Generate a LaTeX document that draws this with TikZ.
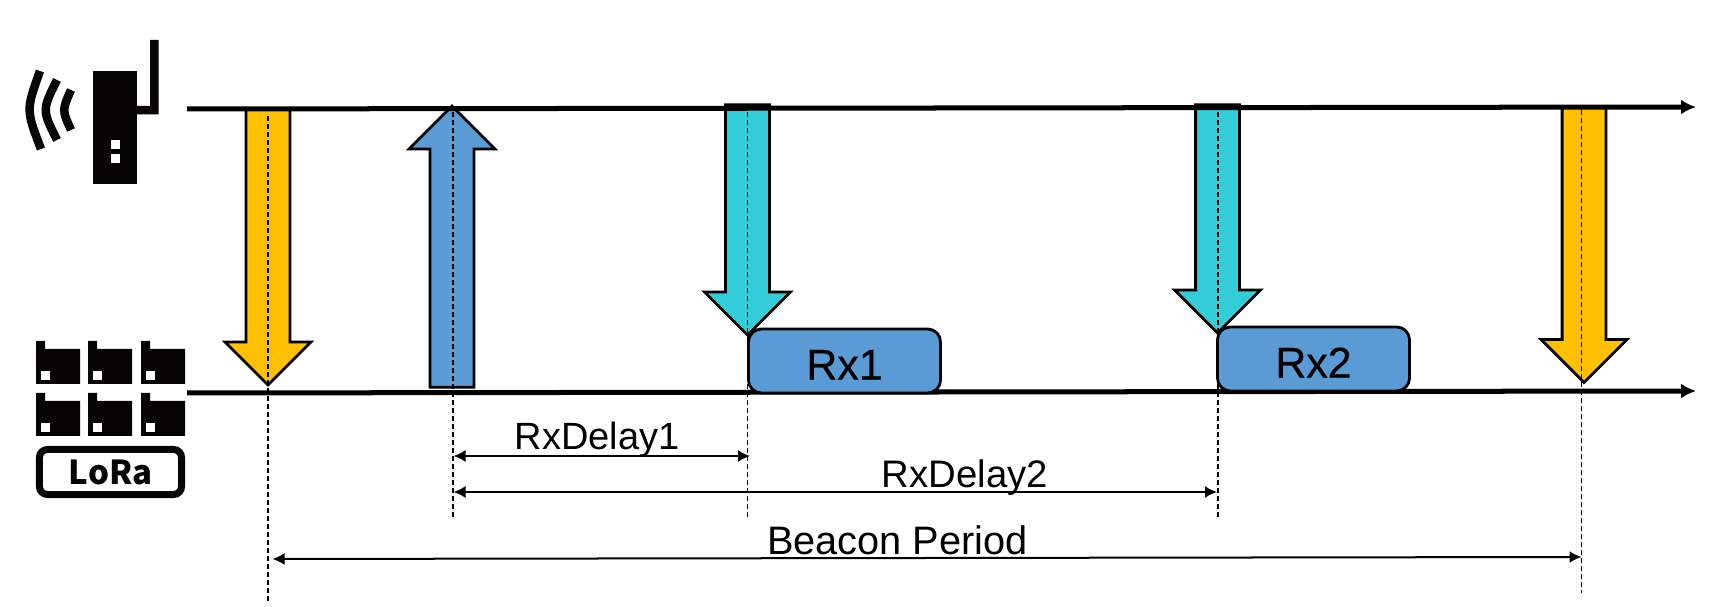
\documentclass[tikz,border=0pt]{standalone}
\usepackage{fontspec}
\setmainfont{Liberation Sans}
\newfontfamily\lorafont{Noto Sans CJK JP}
\newfontfamily\rxfont[FakeBold=0.5]{Liberation Sans}
\usepackage{tikz}
\usetikzlibrary{shapes,arrows.meta}
\definecolor{beaconcol}{HTML}{FFC000}
\definecolor{upcol}{HTML}{5B9BD5}
\definecolor{downcol}{HTML}{33CDD9}
\definecolor{iconcol}{HTML}{070404}

\begin{document}
\begin{tikzpicture}[x=0.01cm, y=-0.01cm, outer sep=0pt,
    block/.style={draw=black, line width=0.028cm, single arrow, single arrow tip angle=90, anchor=tip,
        inner sep=0.205cm, single arrow head extend=0.21cm},
    window/.style={draw=black, line width=0.028cm, fill=upcol, rounded corners=0.13cm, minimum width=1.92cm,
        minimum height=0.64cm, inner sep=0pt, text height=0.37cm, font=\rxfont\fontsize{12.2}{14}\selectfont},
    timing/.style={inner sep=0pt, anchor=base, font=\fontsize{10.8}{13}\selectfont},
    timeline/.style={line width=0.05cm, -{Latex[length=0.15cm,width=0.15cm]}},
    span/.style={line width=0.02cm, {Latex[length=0.12cm,width=0.12cm]}-{Latex[length=0.12cm,width=0.12cm]}},
    guide/.style={line width=0.013cm, dash pattern=on 0.05cm off 0.03cm}]

\useasboundingbox (0,0) rectangle (1712,607);

% block arrows
\node [block, fill=beaconcol, rotate=270, minimum height=2.76cm] at (268,385) (BEACON_A) {};
\node [block, fill=upcol, rotate=90, minimum height=2.81cm] at (452,106) (UPLINK) {};
\node [block, fill=downcol, rotate=270, minimum height=2.30cm] at (747.5,335) (DOWN_A) {};
\node [block, fill=downcol, rotate=270, minimum height=2.28cm] at (1217.5,333) (DOWN_B) {};
\node [block, fill=beaconcol, rotate=270, minimum height=2.75cm] at (1584,382.5) (BEACON_B) {};

\coordinate (GW_START) at (187,109);
\coordinate (GW_END) at (1696,107);
\coordinate (NODE_START) at (187,393);
\coordinate (NODE_END) at (1696,391);
    \draw [timeline] (GW_START) -- (GW_END);
    \draw [timeline] (NODE_START) -- (NODE_END);

\node [window] at (844.5,361) (RX_ONE) {Rx1};
\node [window] at (1313.5,359) (RX_TWO) {Rx2};

% guides
\coordinate (G1_TOP) at (268,116);
\coordinate (G1_BOT) at (268,603);
\coordinate (G2_TOP) at (453,112);
\coordinate (G2_BOT) at (453,519);
\coordinate (G3_TOP) at (747.5,112);
\coordinate (G3_BOT) at (747.5,518);
\coordinate (G4_TOP) at (1218,112);
\coordinate (G4_BOT) at (1218,518);
\coordinate (G5_TOP) at (1581.5,110);
\coordinate (G5_BOT) at (1581.5,593);
    \draw [guide] (G1_TOP) -- (G1_BOT);
    \draw [guide] (G2_TOP) -- (G2_BOT);
    \draw [guide] (G3_TOP) -- (G3_BOT);
    \draw [guide] (G4_TOP) -- (G4_BOT);
    \draw [guide] (G5_TOP) -- (G5_BOT);

% spans
\coordinate (D1_L) at (453.5,456);
\coordinate (D1_R) at (750,456);
\coordinate (D2_L) at (453.5,492);
\coordinate (D2_R) at (1217,492);
\coordinate (BP_L) at (272.5,559);
\coordinate (BP_R) at (1581.5,557);
    \draw [span] (D1_L) -- (D1_R);
    \draw [span] (D2_L) -- (D2_R);
    \draw [span] (BP_L) -- (BP_R);
\node [timing] at (597,450) (D1_TEXT) {RxDelay1};
\node [timing, font=\fontsize{10.9}{13}\selectfont] at (965,488) (D2_TEXT) {RxDelay2};
\node [timing, font=\fontsize{11.3}{13}\selectfont] at (897.5,555) (BP_TEXT) {Beacon Period};

% gateway
\fill [iconcol] (93,71) rectangle (137,184);
\fill [iconcol] (137,106) -- (150,106) -- (150,40) -- (158.5,40) -- (158.5,114.5) -- (137,114.5) -- cycle;
\fill [white] (110.5,140) rectangle (119.5,149);
\fill [white] (110.5,154) rectangle (119.5,163);
\draw [iconcol, line width=0.085cm] (40,71) .. controls (26,110) .. (41,149);
\draw [iconcol, line width=0.085cm] (57,80) .. controls (42,110) .. (57,140);
\draw [iconcol, line width=0.085cm] (71,90) .. controls (62,110) .. (71,130);

% devices
\foreach \cx in {36,88,141}
    \foreach \cy in {341,393} {
        \fill [iconcol] (\cx,\cy) -- ++(9,0) -- ++(0,8) -- ++(35,0) -- ++(0,35) -- ++(-44,0) -- cycle;
        \fill [white] (\cx+5,\cy+30) rectangle (\cx+14,\cy+39);
    }
\node [draw=iconcol, line width=0.07cm, rounded corners=0.08cm, minimum width=1.42cm, minimum height=0.45cm,
    inner sep=0pt, text=iconcol, font=\lorafont\bfseries\fontsize{9.4}{11}\selectfont] at (110.5,472) (LORA) {LoRa};
\end{tikzpicture}
\end{document}
